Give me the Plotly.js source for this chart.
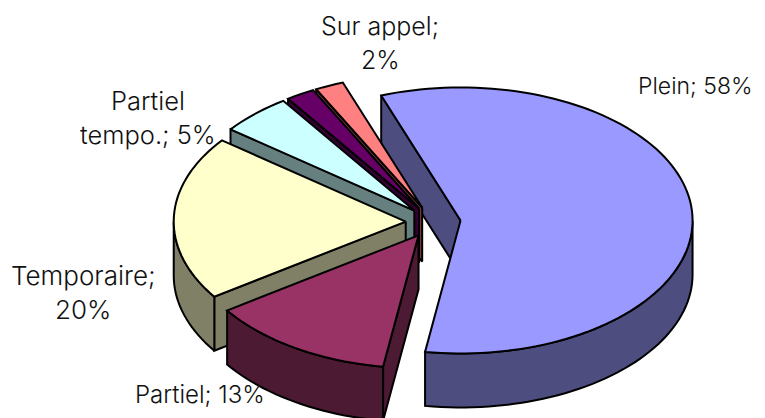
<!DOCTYPE html>
<html><head><meta charset="utf-8">
<script src="https://cdn.plot.ly/plotly-3.0.1.min.js"></script>
<style>html,body{margin:0;padding:0;background:#fff}#c{width:765px;height:418px}</style>
</head><body><div id="c"></div>
<script>
const categories = ["Plein","Partiel","Temporaire","Partiel tempo.","Autre","Sur appel"];
const values = [58,13,20,5,2,2];
const topColors = ["#9999FF","#993366","#FFFFCC","#CCFFFF","#660066","#FF8080"];
const sideColors = ["#4D4D80","#4D1A33","#808066","#668080","#330033","#804040"];
const labelLines = [["Plein; 58%"],["Partiel; 13%"],["Temporaire;","20%"],["Partiel","tempo.; 5%"],[],["Sur appel;","2%"]];
const labelAnchors = [[695,86],[200,394],[83,275],[148,100],null,[380,26]];
const labelSizes = [23,24,26,25.5,0,25];
const lineGap = 34;

// projection of the tilted pie
const cx=433.2, cy=222, rx=232, ry=133, depth=54, explode=0.1185, startDeg=-20;
const total = values.reduce((a,b)=>a+b,0);
const rad = d=>d*Math.PI/180;
const slices=[]; let acc=startDeg;
values.forEach((v,i)=>{
  const a0=acc, a1=acc+v/total*360; acc=a1;
  const mid=rad((a0+a1)/2);
  slices.push({i,a0,a1,ax:cx+rx*explode*Math.sin(mid),ay:cy-ry*explode*Math.cos(mid)});
});
function pt(s,deg,dz){return [s.ax+rx*Math.sin(rad(deg)), s.ay-ry*Math.cos(rad(deg))+(dz||0)];}
function poly(points,fillcolor){
  return {type:"scatter",mode:"lines",x:points.map(p=>p[0]),y:points.map(p=>p[1]),fill:"toself",fillcolor,
    line:{color:"#000",width:2,simplify:false},hoverinfo:"skip",showlegend:false};
}
function arc(s,from,to,dz){const n=Math.max(2,Math.ceil(Math.abs(to-from)/2)),o=[];for(let k=0;k<=n;k++)o.push(pt(s,from+(to-from)*k/n,dz));return o;}
const traces=[];
// back-to-front painting
[0,5,4,3,2,1].forEach(idx=>{
  const s=slices[idx], apex=[s.ax,s.ay], apexLow=[s.ax,s.ay+depth];
  const sinStart=Math.sin(rad(s.a0)), sinEnd=Math.sin(rad(s.a1));
  if(sinStart<0){const A=pt(s,s.a0),B=pt(s,s.a0,depth);traces.push(poly([apex,A,B,apexLow,apex],sideColors[idx]));}
  if(sinEnd>0){const A=pt(s,s.a1),B=pt(s,s.a1,depth);traces.push(poly([apex,A,B,apexLow,apex],sideColors[idx]));}
  // outer wall: only the front half of the rim shows
  for(const base of [0,360,-360]){
    const from=Math.max(s.a0,90+base), to=Math.min(s.a1,270+base);
    if(to>from){traces.push(poly([...arc(s,from,to,0),...arc(s,to,from,depth),pt(s,from,0)],sideColors[idx]));}
  }
  traces.push(poly([apex,...arc(s,s.a0,s.a1,0),apex],topColors[idx]));
});
const annotations=[];
labelLines.forEach((lines,i)=>{
  lines.forEach((t,j)=>{
    annotations.push({x:labelAnchors[i][0],y:labelAnchors[i][1]+j*lineGap,text:t,showarrow:false,xref:"x",yref:"y",
      xanchor:"center",yanchor:"middle",font:{family:"Inter, sans-serif",size:labelSizes[i],color:"#111",weight:300}});
  });
});
Plotly.newPlot("c",traces,{
  width:765,height:418,margin:{l:0,r:0,t:0,b:0},paper_bgcolor:"#fff",plot_bgcolor:"#fff",showlegend:false,
  xaxis:{range:[0,765],visible:false,fixedrange:true},
  yaxis:{range:[418,0],visible:false,fixedrange:true},
  annotations
},{displayModeBar:false,staticPlot:true});
</script></body></html>
